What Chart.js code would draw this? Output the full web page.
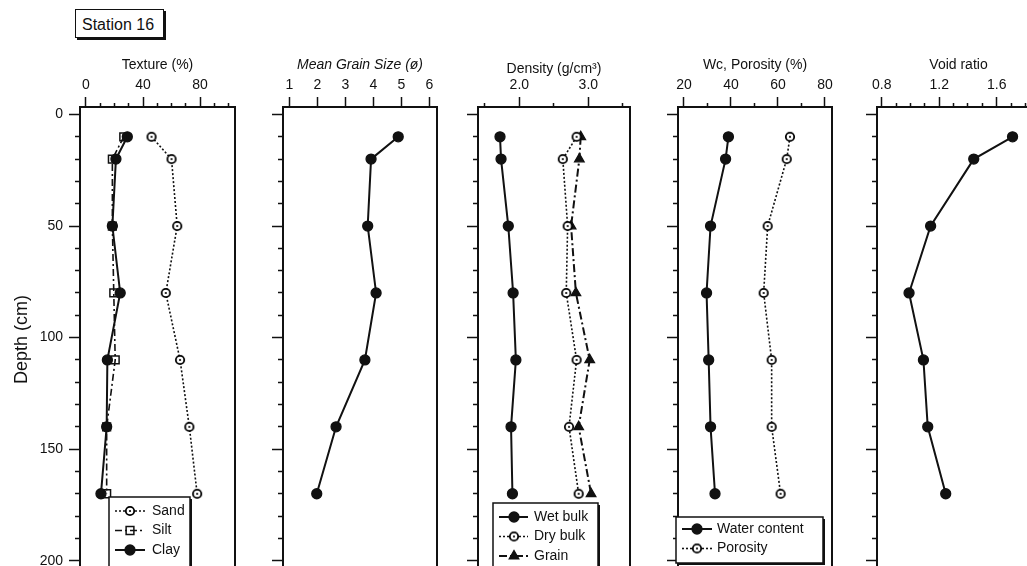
<!DOCTYPE html>
<html><head><meta charset="utf-8">
<script src="https://cdn.jsdelivr.net/npm/chart.js@4.4.1/dist/chart.umd.min.js"></script>
<style>
html,body{margin:0;padding:0;background:#fff;overflow:hidden;width:1027px;height:566px;position:relative;}
.pan{position:absolute;top:0;}
#station{position:absolute;left:75px;top:9px;width:89px;height:29px;border:1.5px solid #111;box-shadow:2px 2px 0 #111;font:16px "Liberation Sans",Arial,sans-serif;line-height:29px;padding-left:6px;box-sizing:border-box;color:#111;background:#fff;}
</style></head><body>
<div id="station">Station 16</div>
<div class="pan" id="p1"><canvas id="c1"></canvas></div>
<div class="pan" id="p2"><canvas id="c2"></canvas></div>
<div class="pan" id="p3"><canvas id="c3"></canvas></div>
<div class="pan" id="p4"><canvas id="c4"></canvas></div>
<div class="pan" id="p5"><canvas id="c5"></canvas></div>
<script>
// ---------- DATA ----------
const depth = [10, 20, 50, 80, 110, 140, 170];
const sand = [46, 60, 64, 56, 66, 72.5, 78];
const silt = [26.5, 18.5, 18.5, 19.5, 20.5, 14.5, 14.5];
const clay = [29, 21, 18.5, 24, 15, 14.5, 10.5];
const meanGrain = [4.89, 3.92, 3.8, 4.1, 3.7, 2.67, 1.98];
const wetBulk = [1.72, 1.735, 1.84, 1.91, 1.95, 1.88, 1.9];
const dryBulk = [2.83, 2.63, 2.70, 2.68, 2.83, 2.72, 2.86];
const grainDensity = [2.89, 2.87, 2.75, 2.82, 3.02, 2.86, 3.04];
const waterContent = [38.9, 37.7, 31.3, 29.6, 30.5, 31.3, 33.2];
const porosity = [65.1, 63.7, 55.6, 53.9, 57.3, 57.3, 61.1];
const voidRatio = [1.71, 1.44, 1.14, 0.99, 1.09, 1.12, 1.245];

const depthTicks = [0,10,20,30,40,50,60,70,80,90,100,110,120,130,140,150,160,170,180,190,200];
const depthMajor = [0,50,100,150,200];
const textureTicks = [0,10,20,30,40,50,60,70,80,90,100];
const textureMajor = [0,40,80];
const grainTicks = [1,2,3,4,5,6];
const grainMajor = [1,2,3,4,5,6];
const densityTicks = [1.5,2.0,2.5,3.0,3.5];
const densityMajor = [2.0,3.0];
const wcTicks = [20,30,40,50,60,70,80];
const wcMajor = [20,40,60,80];
const voidTicks = [0.8,0.9,1.0,1.1,1.2,1.3,1.4,1.5,1.6,1.7,1.8];
const voidMajor = [0.8,1.2,1.6];

// ---------- STYLE ----------
const INK = '#111';
const FONT = '"Liberation Sans", Arial, Helvetica, sans-serif';
Chart.defaults.font.family = FONT;
Chart.defaults.color = INK;
const PLOT_TOP = 107, PLOT_BOTTOM = 572, PAD = 3;
const DEPTH_MIN = -3.36, DEPTH_MAX = 205.07;

function ringDot(){
  const c=document.createElement('canvas'); c.width=12; c.height=12;
  const g=c.getContext('2d');
  g.beginPath(); g.arc(6,6,4.2,0,2*Math.PI); g.fillStyle='#fff'; g.fill();
  g.lineWidth=1.8; g.strokeStyle='#000'; g.stroke();
  g.beginPath(); g.arc(6,6,1.1,0,2*Math.PI); g.fillStyle='#000'; g.fill();
  return c;
}
const RING = ringDot();
const has = (arr,v) => arr.some(a => Math.abs(a-v) < 1e-6);

function series(label, vals, st){
  return Object.assign({
    label, data: depth.map((d,i)=>({x: vals[i], y: d})),
    showLine: true, tension: 0, borderColor: INK, borderWidth: 2, borderDash: [],
    pointBorderColor: INK, pointBackgroundColor: INK, pointBorderWidth: 1.3,
    pointStyle: 'circle', pointRadius: 5
  }, st);
}
const filledCircle = {pointStyle:'circle', pointRadius:5, pointBackgroundColor:INK, borderWidth:2};
const openCircle = {pointStyle: RING, pointRadius:5, borderWidth:1.6, borderDash:[2,2]};

function drawMarker(ctx, ds, x, y){
  const st = ds.pointStyle, r = ds.pointRadius;
  ctx.save(); ctx.setLineDash([]);
  ctx.lineWidth = ds.pointBorderWidth; ctx.strokeStyle = ds.pointBorderColor; ctx.fillStyle = ds.pointBackgroundColor;
  if (st instanceof HTMLCanvasElement) { ctx.drawImage(st, x - st.width/2, y - st.height/2); }
  else {
    ctx.beginPath();
    if (st === 'rect') { const s = r*Math.SQRT1_2; ctx.rect(x-s, y-s, 2*s, 2*s); }
    else if (st === 'triangle') {
      ctx.moveTo(x, y-r);
      ctx.lineTo(x + r*Math.sin(2*Math.PI/3), y - r*Math.cos(2*Math.PI/3));
      ctx.lineTo(x + r*Math.sin(4*Math.PI/3), y - r*Math.cos(4*Math.PI/3));
      ctx.closePath();
    } else { ctx.arc(x, y, r, 0, 2*Math.PI); }
    ctx.fill(); ctx.stroke();
  }
  ctx.restore();
}

function makePanel(p){
  const canvasLeft = p.plotLeft - p.yW;
  const W = p.plotRight - canvasLeft + PAD, H = PLOT_BOTTOM + PAD;
  const div = document.getElementById(p.div);
  div.style.left = canvasLeft + 'px';
  const cv = document.getElementById(p.canvas);
  cv.width = W; cv.height = H; cv.style.width = W+'px'; cv.style.height = H+'px';

  const framePlugin = {
    id: 'frame_'+p.canvas,
    afterDraw(chart){
      const {ctx, chartArea:a} = chart;
      ctx.save(); ctx.strokeStyle = INK; ctx.lineWidth = 2; ctx.setLineDash([]);
      ctx.strokeRect(a.left, a.top, a.right - a.left, a.bottom - a.top);
      if (p.legend) {
        const L = p.legend, off = canvasLeft;
        const x1 = L.box[0]-off, y1 = L.box[1], w = L.box[2]-L.box[0], h = L.box[3]-L.box[1];
        ctx.fillStyle = INK; ctx.fillRect(x1+2, y1+2, w, h);
        ctx.fillStyle = '#fff'; ctx.fillRect(x1, y1, w, h);
        ctx.lineWidth = 1.5; ctx.strokeRect(x1, y1, w, h);
        chart.data.datasets.forEach((ds, i) => {
          const y = L.rows[i];
          ctx.save();
          ctx.strokeStyle = ds.borderColor; ctx.lineWidth = ds.borderWidth; ctx.setLineDash(ds.borderDash || []);
          ctx.beginPath(); ctx.moveTo(L.line[0]-off, y); ctx.lineTo(L.line[1]-off, y); ctx.stroke();
          ctx.restore();
          drawMarker(ctx, ds, L.marker-off, y);
          ctx.fillStyle = INK; ctx.font = '14px ' + FONT; ctx.textBaseline = 'middle'; ctx.textAlign = 'left';
          ctx.fillText(ds.label, L.text-off, y);
        });
      }
      ctx.restore();
    }
  };

  const yScale = {
    type: 'linear', position: 'left', reverse: true, min: DEPTH_MIN, max: DEPTH_MAX,
    afterBuildTicks: s => { s.ticks = depthTicks.map(v => ({value: v})); },
    afterFit: s => { s.width = p.yW; s.paddingTop = 0; s.paddingBottom = 0; s.paddingLeft = 0; s.paddingRight = 0; },
    ticks: { display: !!p.depthLabels, autoSkip: false, padding: 6, color: INK, font: {size: 14},
      callback: v => has(depthMajor, v) ? String(v) : '' },
    grid: { drawOnChartArea: false, drawTicks: true, tickLength: 11, tickWidth: 1.5, tickColor: INK,
      tickBorderDash: c => (c.tick && !has(depthMajor, c.tick.value)) ? [0, 6, 5, 100] : [] },
    border: { display: true, color: INK, width: 2 },
    title: p.depthLabels ? { display: true, text: 'Depth (cm)', color: INK, font: {size: 18}, padding: {top: 11, bottom: 0} } : { display: false }
  };
  const xScale = {
    type: 'linear', position: 'top', min: p.xMin, max: p.xMax,
    afterBuildTicks: s => { s.ticks = p.xTicks.map(v => ({value: v})); },
    afterFit: s => { s.height = PLOT_TOP; s.paddingTop = 0; s.paddingBottom = 0; s.paddingLeft = 0; s.paddingRight = 0; },
    ticks: { autoSkip: false, maxRotation: 0, padding: 3, color: INK, font: {size: 14},
      callback: v => has(p.xMajor, v) ? p.fmt(v) : '' },
    grid: { drawOnChartArea: false, drawTicks: true, tickLength: 10, tickWidth: 1.5, tickColor: INK,
      tickBorderDash: c => (c.tick && !has(p.xMajor, c.tick.value)) ? [0, 6, 4, 100] : [] },
    border: { display: true, color: INK, width: 2 },
    title: { display: true, text: p.title, color: INK, font: Object.assign({size: 14}, p.titleFont || {}),
      padding: {top: p.titlePad != null ? p.titlePad : 56.6, bottom: 0} }
  };

  return new Chart(cv, {
    type: 'scatter',
    data: { datasets: p.datasets },
    options: {
      responsive: false, animation: false, events: [],
      layout: { autoPadding: false, padding: { left: 0, top: 0, right: PAD, bottom: PAD } },
      plugins: { legend: {display: false}, tooltip: {enabled: false}, title: {display: false} },
      scales: { x: xScale, y: yScale }
    },
    plugins: [framePlugin]
  });
}

const int = v => String(Math.round(v));
const one = v => v.toFixed(1);

makePanel({
  div:'p1', canvas:'c1', plotLeft:80, plotRight:235, yW:80, depthLabels:true,
  xMin:-4.21, xMax:104.56, xTicks:textureTicks, xMajor:textureMajor, fmt:int, title:'Texture (%)',
  datasets:[
    series('Sand', sand, openCircle),
    series('Silt', silt, {pointStyle:'rect', pointRadius:5.5, pointBackgroundColor:'rgba(0,0,0,0)', pointBorderWidth:1.5, borderWidth:1.6, borderDash:[7,3,2,3]}),
    series('Clay', clay, filledCircle)
  ],
  legend:{box:[109,497,190,585], rows:[511,530.5,550], line:[115,145], marker:130, text:152}
});
makePanel({
  div:'p2', canvas:'c2', plotLeft:283, plotRight:437, yW:20,
  xMin:0.775, xMax:6.275, xTicks:grainTicks, xMajor:grainMajor, fmt:int, title:'Mean Grain Size (ø)', titleFont:{style:'italic'},
  datasets:[ series('Mean grain size', meanGrain, filledCircle) ]
});
makePanel({
  div:'p3', canvas:'c3', plotLeft:478, plotRight:630, yW:20,
  xMin:1.401, xMax:3.604, xTicks:densityTicks, xMajor:densityMajor, fmt:one, title:'Density (g/cm³)', titlePad:61,
  datasets:[
    series('Wet bulk', wetBulk, filledCircle),
    series('Dry bulk', dryBulk, openCircle),
    series('Grain', grainDensity, {pointStyle:'triangle', pointRadius:5.5, borderWidth:2, borderDash:[8,3,2,3]})
  ],
  legend:{box:[493,503,598,585], rows:[517,536.5,556], line:[499,528], marker:514, text:534}
});
makePanel({
  div:'p4', canvas:'c4', plotLeft:678, plotRight:832, yW:20,
  xMin:17.45, xMax:82.98, xTicks:wcTicks, xMajor:wcMajor, fmt:int, title:'Wc, Porosity (%)',
  datasets:[
    series('Water content', waterContent, filledCircle),
    series('Porosity', porosity, openCircle)
  ],
  legend:{box:[676,517,823,563], rows:[529,548.5], line:[682,712], marker:697, text:717}
});
makePanel({
  div:'p5', canvas:'c5', plotLeft:877, plotRight:1040, yW:20,
  xMin:0.767, xMax:1.901, xTicks:voidTicks, xMajor:voidMajor, fmt:one, title:'Void ratio',
  datasets:[ series('Void ratio', voidRatio, filledCircle) ]
});
</script>
</body></html>
